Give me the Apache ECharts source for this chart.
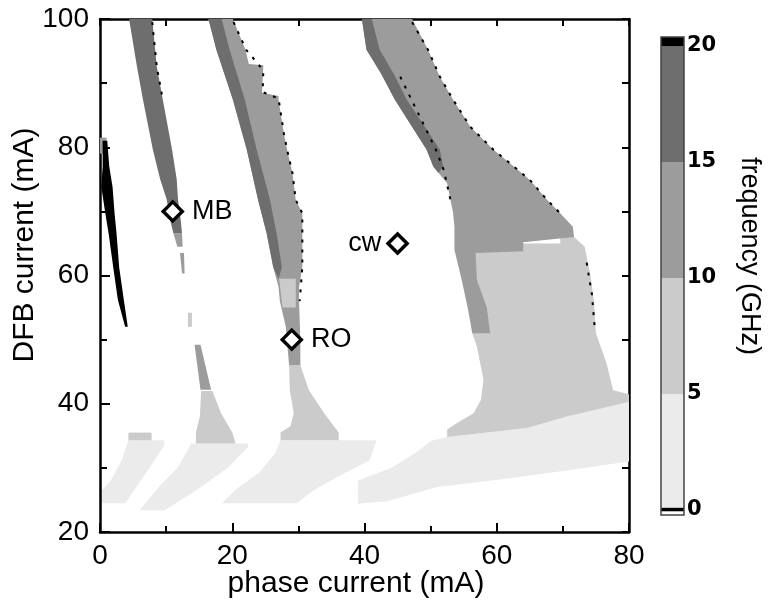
<!DOCTYPE html>
<html><head><meta charset="utf-8">
<script src="https://cdn.jsdelivr.net/npm/echarts@6/dist/echarts.min.js"></script>
<style>html,body{margin:0;padding:0;background:#fff}#c{width:772px;height:610px}</style>
</head><body><div id="c"></div>
<script>
// ---------- data (phase current mA, DFB current mA) ----------
const xTickValues = [0, 20, 40, 60, 80];
const yTickValues = [20, 40, 60, 80, 100];
const cbarTicks = [0, 5, 10, 15, 20];
const cbarRange = [-0.22, 20.39];

// region outlines, each with its frequency level (GHz band lower bound)
const wedge1 = [[0.3,24.5],[3.8,24.5],[5.8,27.5],[7.8,30.5],[9.7,33.5],[9.7,34.3],[4.3,34.3],[3.2,31],[1.6,28],[0.3,26.5]];
const wedge2 = [[6,23.4],[9.8,23.4],[15.3,27],[19.4,30.1],[22.4,33.3],[22.4,33.8],[13.8,33.8],[11.8,30.1],[8.9,27]];
const wedge3 = [[18.4,24.5],[29.8,24.5],[32.3,26.5],[36.8,29.1],[40.8,31.2],[41.8,34.3],[27.3,34.3],[26.5,32.3],[24,29.2],[21,27]];
const bigLight = [[39,24.4],[43.4,24.8],[51,27],[60.5,28.2],[70.6,29.6],[80,31],[80,40.5],[70.6,38],[64.6,36.2],[52.5,34.8],[50,34.2],[48,32.5],[44,30],[39,28]];
const mbLow5 = [[14.5,33.8],[20.5,33.8],[20,35.5],[18.3,38.5],[17,42],[15.3,42],[15.1,38],[14.5,35.5]];
const w1Bit5 = [[4.3,34.3],[7.8,34.3],[7.8,35.5],[4.3,35.5]];
const mbBit5 = [[13.3,54.2],[13.9,54.2],[13.9,52],[13.3,52]];
const roLow5 = [[28.6,46],[30.3,46],[31.6,42.1],[33.9,38.5],[36.1,35.5],[36.1,34.3],[27.3,34.3],[27.3,35.5],[28.8,36.5],[29.3,38.5],[28.7,42.1]];
const bigMid5 = [[52.5,34.8],[64.6,36.2],[70.6,38],[80,40.3],[80,41.5],[77.6,42.1],[76.6,46.3],[75,51],[74.7,56],[74.2,59.8],[73.7,62.4],[73.3,64.5],[71.7,66],[69.6,66],[69.6,65],[55.7,65],[56,59.3],[56.3,51],[57,48.9],[58,43.7],[57.6,40.6],[56.5,38.5],[54,37],[52.5,36]];
const mbMid10 = [[14.3,49.2],[15.2,49.2],[16.8,42.2],[15.2,42.2]];
const mbTail10a = [[11.1,66.6],[12.4,66.6],[12.5,64.5],[11.7,64.5]];
const mbTail10b = [[12.1,63.5],[12.7,63.5],[12.8,60.3],[12.4,60.3]];
const leftBit10 = [[0,81.5],[1,81.5],[1,79],[0,79]];
const roBand10 = [[16.4,100],[17.6,95.2],[20.1,87.4],[22.2,79.6],[23.9,71.8],[25.2,66.6],[26.2,61.3],[27,58.2],[27.2,56],[28.1,52],[28.6,46],[30.3,46],[30.3,50],[30.1,56],[30.1,58.2],[30.6,61.3],[30.6,69.7],[29.6,71.8],[29.1,76],[28.3,79.6],[27.8,82.2],[27,87.4],[27,88],[24.5,88.5],[24.7,92.8],[22.5,93],[22,95.2],[20.1,100]];
const roPatch5 = [[27.1,59.5],[29.6,59.5],[29.6,55],[27.6,55]];
const bigBand10 = [[39.6,100],[47.2,100],[49.6,95.2],[51.4,91],[53.4,87.4],[56,83.2],[59.5,79.6],[62,77.5],[65,74.9],[67.6,71.8],[69.6,69.7],[71.5,67.6],[71.7,66],[64,65.2],[64,63.8],[56.8,63.5],[57,59.3],[58.5,55],[59,51],[56.3,51],[55.6,55],[54.7,59.3],[53.6,64],[53.6,67.6],[53.4,69.7],[53,71.8],[52.5,74.4],[50.4,77],[49.4,79.6],[47,83.5],[44.6,87.4],[42.5,91.5],[40.3,95.2]];
const mbBand15 = [[4.4,100],[5.6,92.5],[6.5,87.4],[8.0,79.6],[9.1,75],[10.1,71.8],[10.6,68.7],[11.1,66.6],[12.4,66.6],[12.2,68.7],[11.8,71.8],[11.6,75],[10.9,79.6],[9.5,87.4],[8.6,92.5],[7.9,100]];
const roStrip15 = [[16.4,100],[17.6,95.2],[20.1,87.4],[22.2,79.6],[23.9,71.8],[25.2,66.6],[26.2,61.3],[27,59.5],[27.5,61.3],[26.7,66.6],[25.7,71.8],[23.7,79.6],[21.9,87.4],[19.6,95.2],[18.4,100]];
const bigStrip15 = [[39.6,100],[41.1,100],[42.3,95.2],[44.5,91.3],[46.4,87.4],[49,83.4],[51.4,79.6],[51.9,77],[51.2,76],[50.4,77],[49.4,79.6],[47,83.5],[44.6,87.4],[42.5,91.5],[40.3,95.2]];
const streak20 = [[0.4,81],[1.1,81],[1.4,77],[1.9,73.8],[2.2,69.7],[2.5,66.6],[2.9,61.3],[3.6,56.2],[4.2,52],[3.8,52],[2.7,56.2],[2.0,61.3],[1.3,66.6],[0.8,69.7],[0.2,73.8],[0.4,77]];

const regionList = [
  [wedge1,0],[wedge2,0],[wedge3,0],[bigLight,0],
  [mbLow5,5],[w1Bit5,5],[mbBit5,5],[roLow5,5],[bigMid5,5],
  [mbMid10,10],[mbTail10a,10],[mbTail10b,10],[leftBit10,10],[roBand10,10],[bigBand10,10],
  [roPatch5,5],
  [mbBand15,15],[roStrip15,15],[bigStrip15,15],
  [streak20,20]
];

// black speckle edges
const edgeMB = [[7.9,99.5],[8.6,92.5],[9.5,87.4]];
const edgeRO = [[20.2,99.5],[22.1,95.2],[24.7,92],[24.6,88.6],[27,87.6],[27.8,82.2],[28.3,79.6],[29.1,76],[29.6,71.8],[30.6,69.7],[30.6,61.3],[30.2,56]];
const edgeBigR = [[47.2,99.5],[49.6,95.2],[51.4,91],[53.4,87.4],[56,83.2],[59.5,79.6],[62,77.5],[65,74.9],[67.6,71.8],[69.6,69.7]];
const edgeBigL = [[45.4,91],[47.4,86.8],[49.4,82.6],[50.8,79.6],[52,76.4],[53,71.8]];
const edgeMid = [[73.6,62],[74.4,57],[74.8,52]];

const markerPoints = [[11,70],[29,50],[45,65]];
const markerNames = ['MB','RO','cw'];

// ---------- styling ----------
const levelColor = {0:'#ebebeb',5:'#cbcbcb',10:'#9c9c9c',15:'#6e6e6e',20:'#000000'};
const FONT = 'Liberation Sans, Arial, sans-serif';

const series = [];
regionList.forEach(([pts, lvl]) => {
  series.push({
    type:'custom', xAxisIndex:0, yAxisIndex:0, silent:true, clip:true,
    data: pts,
    renderItem(params, api){
      if (params.dataIndex !== 0) return null;
      return {type:'polygon', shape:{points: pts.map(p => api.coord(p))}, style:{fill: levelColor[lvl]}};
    }
  });
});
[edgeMB, edgeRO, edgeBigR, edgeBigL, edgeMid].forEach(e => {
  series.push({type:'line', xAxisIndex:0, yAxisIndex:0, data:e, symbol:'none', silent:true,
    lineStyle:{color:'#000', width:2, type:[3,7]}});
});
series.push({
  type:'scatter', xAxisIndex:0, yAxisIndex:0, symbol:'diamond', symbolSize:19,
  itemStyle:{color:'#fff', borderColor:'#000', borderWidth:3.5, opacity:1},
  data: markerPoints.map((p,i)=>({value:p, name:markerNames[i],
    label:{show:true, formatter:markerNames[i], position: i===2?'left':'right', distance: i===2?5:8,
      fontSize:27, color:'#000', opacity:1, fontFamily:FONT}})),
  z:5
});

// colorbar
const cbarSegs = [];
cbarSegs.push([cbarRange[0], 0.1, 'white']);
cbarSegs.push([-0.06, 0.1, 'black']);
for (let i=0;i<cbarTicks.length-1;i++) cbarSegs.push([Math.max(cbarTicks[i],0.1), cbarTicks[i+1], levelColor[cbarTicks[i]]]);
cbarSegs.push([cbarTicks[cbarTicks.length-1], cbarRange[1], levelColor[20]]);
series.push({
  type:'custom', xAxisIndex:2, yAxisIndex:2, silent:true,
  data: cbarSegs.map(s=>[s[0],s[1]]),
  renderItem(params, api){
    const s = cbarSegs[params.dataIndex];
    const a = api.coord([0, s[1]]), b = api.coord([1, s[0]]);
    return {type:'rect', shape:{x:a[0], y:a[1], width:b[0]-a[0], height:b[1]-a[1]}, style:{fill:s[2]}};
  }
});
series.push({
  type:'custom', xAxisIndex:2, yAxisIndex:2, silent:true, z:3,
  data:[[cbarRange[0], cbarRange[1]]],
  renderItem(params, api){
    const a = api.coord([0, cbarRange[1]]), b = api.coord([1, cbarRange[0]]);
    return {type:'rect', shape:{x:a[0], y:a[1], width:b[0]-a[0], height:b[1]-a[1]}, style:{fill:'none', stroke:'#444', lineWidth:1.5}};
  }
});

const tickStyle = {color:'#000', width:2};
const option = {
  animation:false,
  backgroundColor:'#fff',
  grid:[
    {left:100, top:19, width:529, height:513, show:false},
    {left:661, top:37, width:23, height:478, show:false}
  ],
  xAxis:[
    {type:'value', gridIndex:0, min:0, max:80, interval:20, position:'bottom',
      axisLine:{onZero:false, lineStyle:{color:'#000', width:2.5}},
      axisTick:{inside:true, length:9, lineStyle:tickStyle},
      minorTick:{show:true, splitNumber:2, length:6, lineStyle:tickStyle},
      axisLabel:{fontSize:28, color:'#000', fontFamily:FONT, margin:10},
      splitLine:{show:false}, minorSplitLine:{show:false}},
    {type:'value', gridIndex:0, min:0, max:80, interval:20, position:'top',
      axisLine:{onZero:false, lineStyle:{color:'#000', width:2.5}},
      axisTick:{inside:true, length:7, lineStyle:tickStyle},
      minorTick:{show:true, splitNumber:2, length:7, lineStyle:tickStyle},
      axisLabel:{show:false}, splitLine:{show:false}, minorSplitLine:{show:false}},
    {type:'value', gridIndex:1, min:0, max:1, show:false}
  ],
  yAxis:[
    {type:'value', gridIndex:0, min:20, max:100, interval:20, position:'left',
      axisLine:{onZero:false, lineStyle:{color:'#000', width:2.5}},
      axisTick:{inside:true, length:10, lineStyle:tickStyle},
      minorTick:{show:true, splitNumber:2, length:7, lineStyle:tickStyle},
      axisLabel:{fontSize:28, color:'#000', fontFamily:FONT, margin:11},
      splitLine:{show:false}, minorSplitLine:{show:false}},
    {type:'value', gridIndex:0, min:20, max:100, interval:20, position:'right',
      axisLine:{onZero:false, lineStyle:{color:'#000', width:2.5}},
      axisTick:{inside:true, length:7, lineStyle:tickStyle},
      minorTick:{show:true, splitNumber:2, length:7, lineStyle:tickStyle},
      axisLabel:{show:false}, splitLine:{show:false}, minorSplitLine:{show:false}},
    {type:'value', gridIndex:1, min:cbarRange[0], max:cbarRange[1], position:'right',
      axisLine:{show:false},
      axisTick:{show:true, customValues:cbarTicks, length:5, lineStyle:{color:'#000', width:1.5}},
      axisLabel:{customValues:cbarTicks, fontSize:21, fontWeight:'bold', color:'#000', fontFamily:'DejaVu Sans', margin:3},
      splitLine:{show:false}}
  ],
  graphic:[
    {type:'text', x:356, y:584, style:{text:'phase current (mA)', fontSize:30, fontFamily:FONT, fill:'#000', textAlign:'center', textVerticalAlign:'middle'}},
    {type:'text', x:25, y:245, rotation:Math.PI/2, style:{text:'DFB current (mA)', fontSize:30, fontFamily:FONT, fill:'#000', textAlign:'center', textVerticalAlign:'middle'}},
    {type:'text', x:749, y:256, rotation:-Math.PI/2, style:{text:'frequency (GHz)', fontSize:27, fontFamily:FONT, fill:'#000', textAlign:'center', textVerticalAlign:'middle'}}
  ],
  series
};
const chart = echarts.init(document.getElementById('c'), null, {renderer:'canvas'});
chart.setOption(option);
</script></body></html>
